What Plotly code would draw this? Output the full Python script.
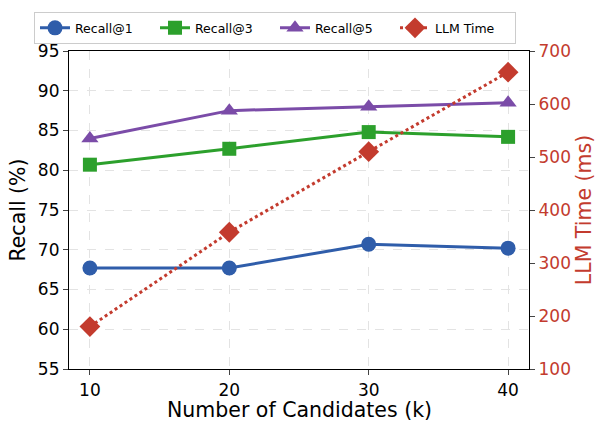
import plotly.graph_objects as go

candidates = [10, 20, 30, 40]
recall1 = [67.7, 67.7, 70.7, 70.2]
recall3 = [80.7, 82.7, 84.8, 84.2]
recall5 = [84.0, 87.5, 88.0, 88.5]
llm_time = [180, 358, 510, 660]

left_ticks = [55, 60, 65, 70, 75, 80, 85, 90, 95]
right_ticks = [100, 200, 300, 400, 500, 600, 700]

BLUE = "#2F5DAA"
GREEN = "#2CA02C"
PURPLE = "#7B4CA8"
RED = "#C33B2E"

fig = go.Figure()
fig.add_trace(go.Scatter(x=candidates, y=recall1, name="Recall@1", mode="lines+markers",
                         line=dict(color=BLUE, width=3), marker=dict(symbol="circle", size=15, color=BLUE)))
fig.add_trace(go.Scatter(x=candidates, y=recall3, name="Recall@3", mode="lines+markers",
                         line=dict(color=GREEN, width=3), marker=dict(symbol="square", size=14, color=GREEN)))
fig.add_trace(go.Scatter(x=candidates, y=recall5, name="Recall@5", mode="lines+markers",
                         line=dict(color=PURPLE, width=3), marker=dict(symbol="triangle-up", size=15, color=PURPLE)))
fig.add_trace(go.Scatter(x=candidates, y=llm_time, name="LLM Time", mode="lines+markers", yaxis="y2",
                         line=dict(color=RED, width=3, dash="dot"), marker=dict(symbol="diamond", size=16, color=RED)))

font = "DejaVu Sans"
fig.update_layout(
    width=599, height=421,
    margin=dict(l=69, r=70, t=40, b=52),
    paper_bgcolor="white", plot_bgcolor="white",
    font=dict(family=font, size=17, color="black"),
    showlegend=True,
    legend=dict(orientation="h", x=(34 - 69) / 460, xanchor="left", y=1 + (40 - 33) / 329, yanchor="bottom",
                bordercolor="#CCCCCC", borderwidth=1, bgcolor="white",
                font=dict(size=12.5), itemwidth=30, entrywidth=75, entrywidthmode="pixels"),
    xaxis=dict(range=[8.5, 41.5], tickvals=candidates, ticks="outside", ticklen=5, automargin=False,
               showline=True, linecolor="black", linewidth=1.2, mirror=True,
               showgrid=True, gridcolor="#E3E3E3", griddash="dash", zeroline=False),
    yaxis=dict(range=[55, 95], tickvals=left_ticks, ticks="outside", ticklen=5, automargin=False,
               showline=True, linecolor="black", linewidth=1.2,
               showgrid=True, gridcolor="#E3E3E3", griddash="dash", zeroline=False,
               title=dict(text="Recall (%)", font=dict(size=20.5), standoff=6)),
    yaxis2=dict(range=[100, 700], tickvals=right_ticks, overlaying="y", side="right", automargin=False,
                ticks="outside", ticklen=5, showline=True, linecolor="black", linewidth=1.2,
                showgrid=False, zeroline=False, tickfont=dict(color=RED),
                title=dict(text="LLM Time (ms)", font=dict(size=20.5, color=RED), standoff=6)),
    annotations=[dict(text="Number of Candidates (k)", xref="paper", yref="paper",
                      x=0.5, y=-(411 - 369) / 329, xanchor="center", yanchor="middle",
                      showarrow=False, font=dict(size=20.5, color="black"))],
)

fig.write_html("out.html", config={"displayModeBar": False},
               post_script="document.body.style.margin='0';")
